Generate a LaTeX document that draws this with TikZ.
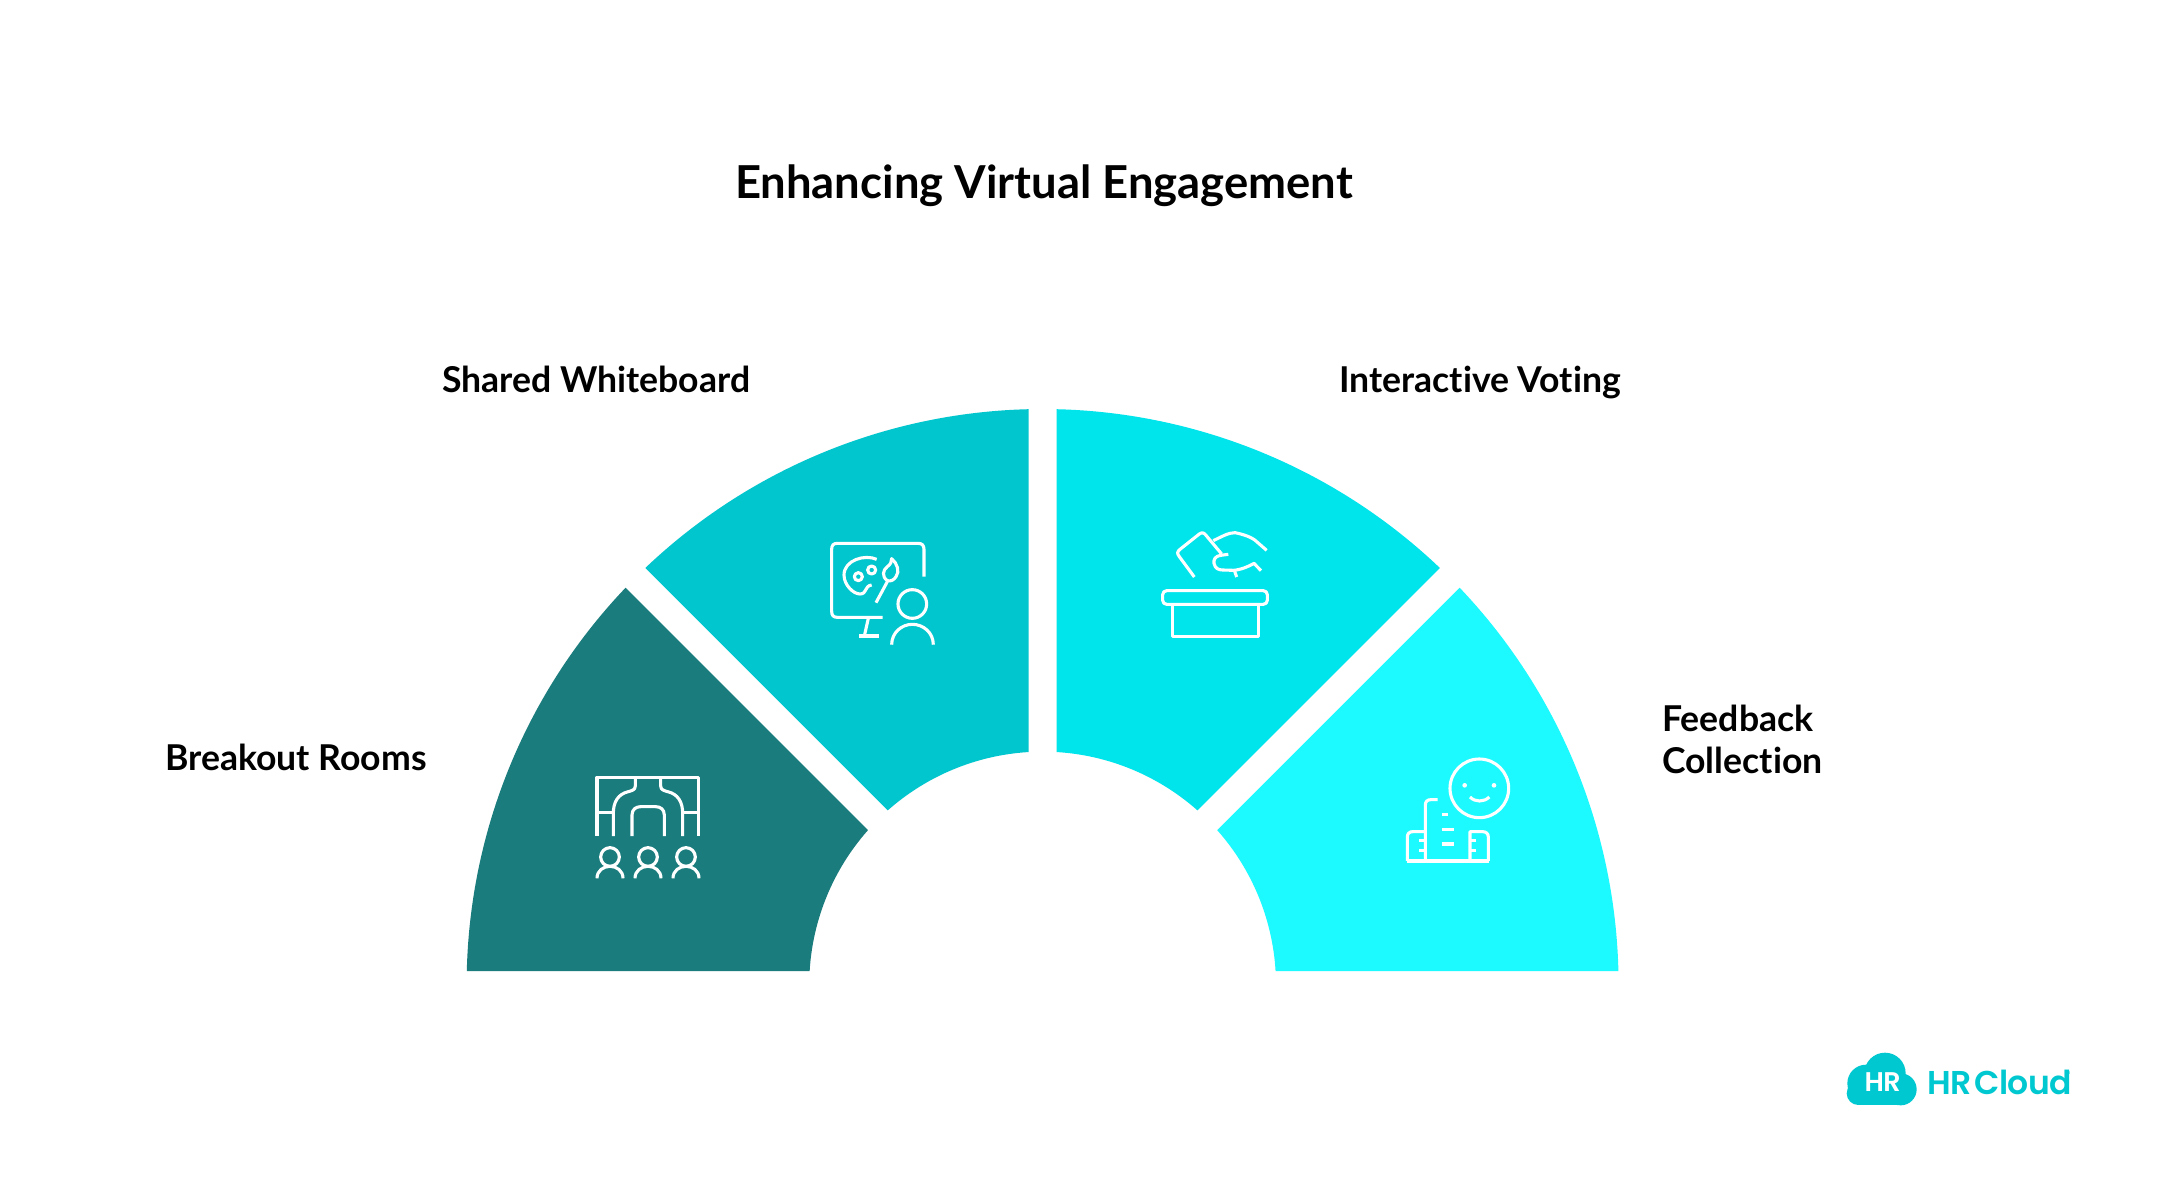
\documentclass[tikz,border=0pt]{standalone}
\usepackage{fontspec}
\setmainfont{Lato}[BoldFont={Lato Bold},Ligatures=NoCommon]
\newfontfamily\logofont{Poppins SemiBold}[LetterSpace=-2.5]
\definecolor{wedgeA}{RGB}{27,124,125}
\definecolor{wedgeB}{RGB}{2,198,205}
\definecolor{wedgeC}{RGB}{0,228,235}
\definecolor{wedgeD}{RGB}{28,250,255}
\definecolor{logocol}{RGB}{0,200,208}
\tikzset{
  wedgeshape/.style={draw=none},
  iconline/.style={draw=white,line width=3.1pt,line cap=butt,line join=round,fill=none},
  heading/.style={font=\fontsize{45.4}{46}\selectfont\bfseries,text=black,inner sep=0pt},
  label/.style={font=\fontsize{35.6}{42}\selectfont\bfseries,text=black,inner sep=0pt,align=left},
}
\newcommand{\sector}[3]{% colour, start centre line angle, end centre line angle (y-down degrees)
  \fill[#1,wedgeshape] ({1042.6+576*cos(#2+1.392)},{985+576*sin(#2+1.392)})
    arc[start angle={#2+1.392},end angle={#3-1.392},radius=576]
    -- ({1042.6+233.4*cos(#3-3.439)},{985+233.4*sin(#3-3.439)})
    arc[start angle={#3-3.439},end angle={#2+3.439},radius=233.4]
    -- cycle;}
\begin{document}
\begin{tikzpicture}[x=1pt,y=-1pt]
\useasboundingbox (0,0) rectangle (2160,1188);
\fill[white] (0,0) rectangle (2160,1188);
\sector{wedgeA}{-180}{-135}
\sector{wedgeB}{-135}{-90}
\sector{wedgeC}{-90}{-45}
\sector{wedgeD}{-45}{0}
% texts
\node[heading,anchor=base] (title) at (1044,198) {Enhancing Virtual Engagement};
\node[label,anchor=base west] (shared) at (442,392) {Shared Whiteboard};
\node[label,anchor=base west] (voting) at (1339,392) {Interactive Voting};
\node[label,anchor=base west] (breakout) at (165,770) {Breakout Rooms};
\node[label,anchor=base west] (feedbackA) at (1662,731) {Feedback};
\node[label,anchor=base west] (feedbackB) at (1662,773) {Collection};
% icon: breakout rooms
\begin{scope}[shift={(570,760)},x=0.3333pt,y=-0.3333pt]
\draw[iconline] (81,228) -- (81,52) -- (386,52) -- (386,228);
\draw[iconline] (80,158) -- (130,158);
\draw[iconline] (340,158) -- (386,158);
\draw[iconline] (196,52) -- (196,78) .. controls (196,90) and (185,92) .. (175,95) .. controls (145,102) and (130,125) .. (130,160) -- (130,228);
\draw[iconline] (272,52) -- (272,78) .. controls (272,90) and (283,92) .. (293,95) .. controls (323,102) and (338,125) .. (338,160) -- (338,228);
\draw[iconline] (186,228) -- (186,165) .. controls (186,148) and (198,140) .. (212,140) -- (257,140) .. controls (271,140) and (283,148) .. (283,165) -- (283,228);
\foreach \cx in {120,234,348}{
 \draw[iconline] (\cx,291) circle[x radius=28,y radius=28];
 \draw[iconline] (\cx-39,355) .. controls (\cx-39,332) and (\cx-20,319) .. (\cx,319) .. controls (\cx+20,319) and (\cx+39,332) .. (\cx+39,355);
}
\end{scope}
% icon: whiteboard
\begin{scope}[shift={(810,530)},x=0.3333pt,y=-0.3333pt]
\draw[iconline] (342,140) -- (342,58) .. controls (342,46) and (336,40) .. (324,40) -- (82,40) .. controls (70,40) and (65,46) .. (65,58) -- (65,244) .. controls (65,256) and (70,262) .. (82,262) -- (218,262);
\draw[iconline] (175,265) -- (163,318);
\draw[iconline] (148,318) -- (206,318);
\draw[iconline] (307,222) circle[x radius=43,y radius=43];
\draw[iconline] (245,344) .. controls (245,308) and (275,283) .. (307,283) .. controls (340,283) and (370,308) .. (370,344);
\draw[iconline] (200,88) .. controls (165,72) and (102,90) .. (102,135) .. controls (102,165) and (130,192) .. (150,192) .. controls (172,192) and (162,168) .. (185,165);
\draw[iconline] (145,140) circle[x radius=12,y radius=12];
\draw[iconline] (185,120) circle[x radius=12,y radius=12];
\draw[iconline] (198,218) -- (232,155);
\draw[iconline] (232,152) .. controls (215,140) and (218,120) .. (232,110) .. controls (242,103) and (245,95) .. (245,86) .. controls (262,100) and (270,125) .. (258,140) .. controls (252,150) and (242,155) .. (232,152) -- cycle;
\end{scope}
% icon: voting
\begin{scope}[shift={(1150,520)},x=0.3333pt,y=-0.3333pt]
\draw[iconline] (133,171) -- (88,110) .. controls (80,100) and (82,95) .. (90,88) -- (148,42) .. controls (156,36) and (162,38) .. (168,46) -- (215,102);
\draw[iconline] (190,62) .. controls (215,50) and (235,38) .. (255,38) .. controls (275,42) and (305,50) .. (320,65) -- (350,91);
\draw[iconline] (235,103) -- (212,106) .. controls (195,108) and (190,120) .. (192,130) .. controls (195,145) and (205,150) .. (218,150) -- (250,151) .. controls (270,150) and (295,140) .. (312,130) -- (333,152);
\draw[iconline] (254,154) -- (260,171);
\draw[iconline,rounded corners=4pt] (38,212) rectangle (352,253);
\draw[iconline] (68,254) -- (68,350) -- (326,350) -- (326,254);
\end{scope}
% icon: feedback
\begin{scope}[shift={(1390,745)},x=0.3333pt,y=-0.3333pt]
\draw[iconline] (268,130) circle[x radius=88,y radius=88];
\fill[white] (224,121) circle[x radius=7,y radius=7];
\fill[white] (312,121) circle[x radius=7,y radius=7];
\draw[iconline] (240,156) .. controls (255,172) and (282,172) .. (298,156);
\draw[iconline] (143,164) -- (122,164) .. controls (112,164) and (106,170) .. (106,180) -- (106,348);
\draw[iconline] (50,348) -- (296,348);
\draw[iconline] (106,260) -- (68,260) .. controls (58,260) and (52,266) .. (52,276) -- (52,348);
\draw[iconline] (240,348) -- (240,260) -- (278,260) .. controls (288,260) and (295,266) .. (295,276) -- (295,348);
\draw[iconline] (155,208) -- (173,208);
\draw[iconline] (155,253) -- (191,253);
\draw[iconline] (155,297) -- (191,297);
\draw[iconline] (88,287) -- (106,287);
\draw[iconline] (88,316) -- (106,316);
\draw[iconline] (240,287) -- (258,287);
\draw[iconline] (240,316) -- (258,316);
\end{scope}
% logo
\begin{scope}[shift={(1830,1040)},x=0.3333pt,y=-0.3333pt]
\fill[logocol] (165,100) circle[x radius=62,y radius=62];
\fill[logocol] (108,130) circle[x radius=56,y radius=56];
\fill[logocol] (212,148) circle[x radius=48,y radius=48];
\fill[logocol] (85,160) circle[x radius=35,y radius=35];
\fill[logocol] (85,130) rectangle (212,196);
\node[inner sep=0pt,text=white,anchor=base,font=\fontsize{27}{27}\logofont] (logoHR) at (158,155) {HR};
\node[inner sep=0pt,text=logocol,anchor=base west,font=\fontsize{33}{33}\logofont] (logoText) at (293,163) {HR\hspace{-0.12em} Cloud};
\node[inner sep=0pt,text=logocol,anchor=center,font=\fontsize{7}{7}\logofont] (logoReg) at (716,103) {®};
\end{scope}
\end{tikzpicture}
\end{document}
